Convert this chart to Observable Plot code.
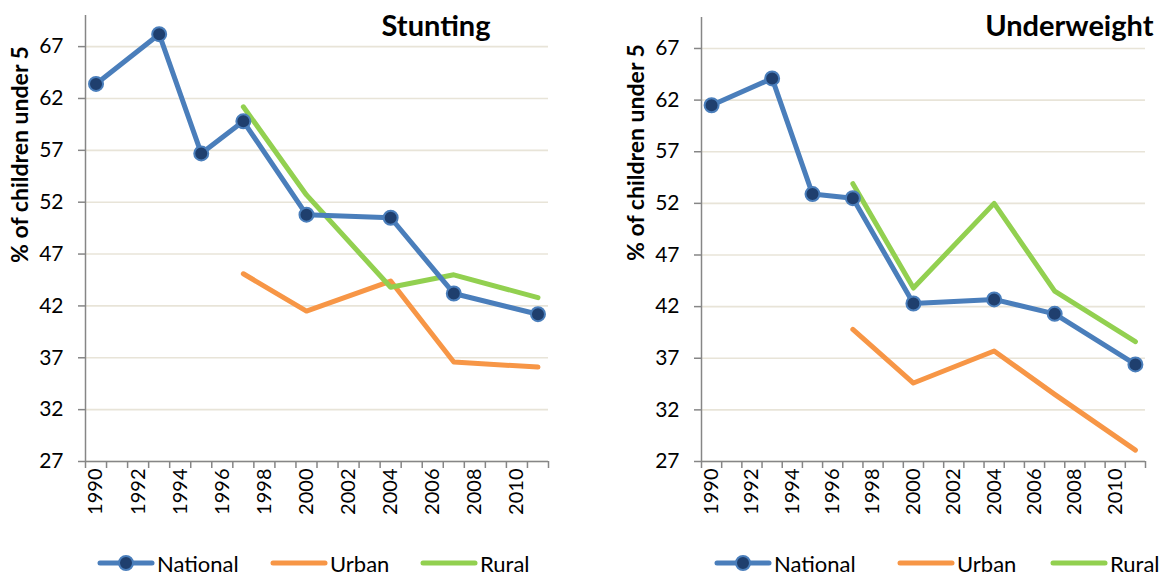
<!DOCTYPE html>
<html>
<head>
<meta charset="utf-8">
<script src="https://cdn.jsdelivr.net/npm/d3@7"></script>
<script src="https://cdn.jsdelivr.net/npm/@observablehq/plot@0.6"></script>
<style>
  body { margin: 0; background: #fff; font-family: Lato, "Noto Sans", sans-serif; }
  #wrap { position: relative; width: 1166px; height: 576px; overflow: hidden; background: #fff; }
  .panel { position: absolute; top: 0; width: 583px; height: 545px; }
  .leg { position: absolute; top: 550px; height: 26px; display: flex; align-items: center; font-size: 22px; color: #000; white-space: nowrap; }
  .leg svg { display: block; }
</style>
</head>
<body>
<div id="wrap"></div>
<script>
// ---- data ----
const tickYears = [1990, 1992, 1994, 1996, 1998, 2000, 2002, 2004, 2006, 2008, 2010];
const categoryEdges = [1989.5, 1990.5, 1991.5, 1992.5, 1993.5, 1994.5, 1995.5, 1996.5, 1997.5, 1998.5, 1999.5,
  2000.5, 2001.5, 2002.5, 2003.5, 2004.5, 2005.5, 2006.5, 2007.5, 2008.5, 2009.5, 2010.5, 2011.5];
const yTicks = [27, 32, 37, 42, 47, 52, 57, 62, 67];

const nationalYears = [1990, 1993, 1995, 1997, 2000, 2004, 2007, 2011];
const subYears = [1997, 2000, 2004, 2007, 2011];

const stuntingNational = [63.4, 68.2, 56.7, 59.8, 50.8, 50.5, 43.2, 41.2];
const stuntingUrban = [45.1, 41.5, 44.4, 36.6, 36.1];
const stuntingRural = [61.2, 52.7, 43.8, 45.0, 42.8];

const underweightNational = [61.5, 64.1, 52.9, 52.5, 42.3, 42.7, 41.3, 36.4];
const underweightUrban = [39.8, 34.6, 37.7, 33.5, 28.1];
const underweightRural = [53.9, 43.8, 52.0, 43.5, 38.6];

const seriesNames = ["National", "Urban", "Rural"];
const colors = { National: "#4a7ebb", Urban: "#f79646", Rural: "#92d050" };
const markerFill = "#1f3f6e";
const yLabel = "% of children under 5";

function rows(years, values) { return years.map((year, i) => ({ year, value: values[i] })); }

function panel({ title, national, urban, rural, marginLeft, marginRight, marginTop, titleDx, titleDy, labelDy }) {
  const nat = rows(nationalYears, national);
  const urb = rows(subYears, urban);
  const rur = rows(subYears, rural);
  return Plot.plot({
    width: 583,
    height: 545,
    marginLeft, marginRight, marginTop,
    marginBottom: 545 - 461,
    x: { domain: [1989.5, 2011.5] },
    y: { domain: [27, 70] },
    style: { fontFamily: "Lato, 'Noto Sans', sans-serif", fontSize: "18px", color: "#000", background: "transparent", overflow: "visible" },
    marks: [
      Plot.gridY(yTicks, { stroke: "#e8e4d8", strokeOpacity: 1, strokeWidth: 1.6 }),
      Plot.ruleX([1989.5], { stroke: "#868686", strokeWidth: 1.5 }),
      Plot.ruleY([27], { stroke: "#868686", strokeWidth: 1.5 }),
      Plot.axisY(yTicks, { tickSize: 7, tickPadding: 15, stroke: "#868686", strokeWidth: 1.5, label: null, fontSize: 21, tickFormat: d => String(d) }),
      Plot.axisX(categoryEdges, { tickSize: 7, tickPadding: 0, stroke: "#868686", strokeWidth: 1.5, tickFormat: () => "", label: null }),
      Plot.axisX(tickYears, { tickSize: 0, tickPadding: 7, tickRotate: -90, tickFormat: d => String(d), label: null, fontSize: 20 }),
      Plot.line(urb, { x: "year", y: "value", stroke: colors.Urban, strokeWidth: 5, strokeLinejoin: "round" }),
      Plot.line(rur, { x: "year", y: "value", stroke: colors.Rural, strokeWidth: 5, strokeLinejoin: "round" }),
      Plot.line(nat, { x: "year", y: "value", stroke: colors.National, strokeWidth: 5, strokeLinejoin: "round" }),
      Plot.dot(nat, { x: "year", y: "value", r: 7, fill: markerFill, stroke: colors.National, strokeWidth: 2 }),
      Plot.text([title], { frameAnchor: "top-right", dx: titleDx, dy: titleDy, fontWeight: "bold", fontSize: 29, textAnchor: "end", lineAnchor: "middle" }),
      Plot.text([yLabel], { frameAnchor: "top-left", dx: -65, dy: labelDy, rotate: -90, fontWeight: "bold", fontSize: 23, textAnchor: "middle", lineAnchor: "middle" })
    ]
  });
}

const wrap = document.getElementById("wrap");

function addPanel(left, chart) {
  const d = document.createElement("div");
  d.className = "panel";
  d.style.left = left + "px";
  d.appendChild(chart);
  wrap.appendChild(d);
}

addPanel(0, panel({ title: "Stunting", national: stuntingNational, urban: stuntingUrban, rural: stuntingRural,
  marginLeft: 85, marginRight: 35, marginTop: 15, titleDx: -58, titleDy: 11, labelDy: 139 }));
addPanel(583, panel({ title: "Underweight", national: underweightNational, urban: underweightUrban, rural: underweightRural,
  marginLeft: 118, marginRight: 21, marginTop: 17, titleDx: 8, titleDy: 9, labelDy: 135 }));

// ---- legends ----
function legendItem(name, left) {
  const item = document.createElement("div");
  item.className = "leg";
  item.style.left = left + "px";
  const ns = "http://www.w3.org/2000/svg";
  const svg = document.createElementNS(ns, "svg");
  svg.setAttribute("width", 58);
  svg.setAttribute("height", 20);
  const line = document.createElementNS(ns, "line");
  line.setAttribute("x1", 3); line.setAttribute("x2", 55);
  line.setAttribute("y1", 10); line.setAttribute("y2", 10);
  line.setAttribute("stroke", colors[name]);
  line.setAttribute("stroke-width", 5);
  line.setAttribute("stroke-linecap", "round");
  svg.appendChild(line);
  if (name === "National") {
    const c = document.createElementNS(ns, "circle");
    c.setAttribute("cx", 29); c.setAttribute("cy", 10); c.setAttribute("r", 7);
    c.setAttribute("fill", markerFill); c.setAttribute("stroke", colors.National); c.setAttribute("stroke-width", 2);
    svg.appendChild(c);
  }
  item.appendChild(svg);
  const t = document.createElement("span");
  t.textContent = name;
  t.style.marginLeft = "2px";
  item.appendChild(t);
  wrap.appendChild(item);
}
const leftLegendX = [97, 270, 420];
const rightLegendX = [714, 897, 1050];
seriesNames.forEach((n, i) => legendItem(n, leftLegendX[i]));
seriesNames.forEach((n, i) => legendItem(n, rightLegendX[i]));
</script>
</body>
</html>
